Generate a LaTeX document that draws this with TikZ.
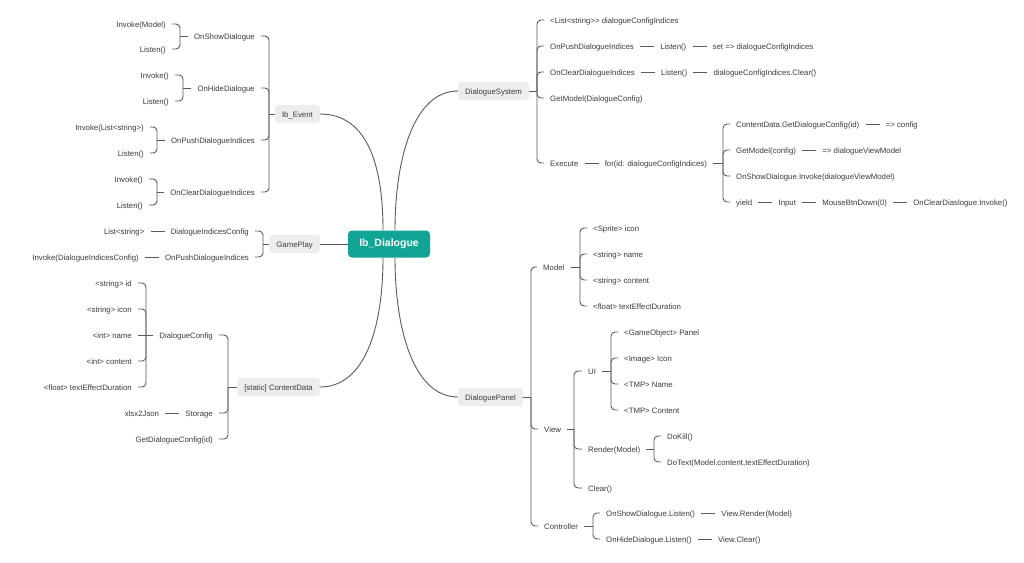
\documentclass[tikz,border=0pt]{standalone}
\usepackage{fontspec}
\setmainfont{Liberation Sans}
\usetikzlibrary{positioning}

\definecolor{rootteal}{HTML}{12A596}
\definecolor{topicgray}{HTML}{EDEDED}
\definecolor{linkgray}{HTML}{5A5A5A}
\definecolor{textgray}{HTML}{3C3C3C}

\tikzset{
  link/.style={draw=linkgray, line width=0.9pt},
  every edge/.style={link},
  elbow/.style={rounded corners=4pt, to path={|- (\tikztotarget)}},
  leaf/.style={font=\fontsize{7.8}{9}\selectfont, text=textgray, inner xsep=6pt,
    inner ysep=1pt, text height=1.6ex, text depth=.45ex},
  topic/.style={leaf, fill=topicgray, rounded corners=3pt, inner xsep=7pt,
    minimum height=18pt},
  root/.style={fill=rootteal, rounded corners=4pt, text=white,
    font=\fontsize{10.5}{12}\selectfont\bfseries, minimum width=82pt, minimum height=27pt}
}

\begin{document}
\begin{tikzpicture}[x=1pt, y=-1pt]

  \path[fill=white] (0,0) rectangle (1024,562);
  \useasboundingbox (0,0) rectangle (1024,562);

  % main topics
  \node[root] (root) at (389,244) {Ib\_Dialogue};

  \node[topic, anchor=east] (event)    at (320,114) {Ib\_Event};
  \node[topic, anchor=east] (gameplay) at (320,244) {GamePlay};
  \node[topic, anchor=east] (cdata)    at (320,387) {[static] ContentData};
  \node[topic, anchor=west] (dsys)     at (458,91)  {DialogueSystem};
  \node[topic, anchor=west] (dpanel)   at (458,397) {DialoguePanel};

  \draw[link] ([xshift=-6pt]root.north) .. controls +(0,-70) and +(45,0) .. (event.east);
  \draw[link] ([xshift=6pt]root.north) .. controls +(0,-70) and +(-45,0) .. (dsys.west);
  \draw[link] ([xshift=-6pt]root.south) .. controls +(0,70) and +(45,0) .. (cdata.east);
  \draw[link] ([xshift=6pt]root.south) .. controls +(0,70) and +(-45,0) .. (dpanel.west);
  \draw[link] (root.west) -- (gameplay.east);

  % Ib_Event
  \coordinate (event-j) at (269,114);
  \node[leaf, anchor=east] (ev-show)  at (261,36)  {OnShowDialogue};
  \node[leaf, anchor=east] (ev-hide)  at (261,88)  {OnHideDialogue};
  \node[leaf, anchor=east] (ev-push)  at (261,140) {OnPushDialogueIndices};
  \node[leaf, anchor=east] (ev-clear) at (261,192) {OnClearDialogueIndices};

  \node[leaf, anchor=east] (ev-show-inv)  at (172,24)  {Invoke(Model)};
  \node[leaf, anchor=east] (ev-show-lis)  at (172,49)  {Listen()};
  \node[leaf, anchor=east] (ev-hide-inv)  at (175,75)  {Invoke()};
  \node[leaf, anchor=east] (ev-hide-lis)  at (175,101) {Listen()};
  \node[leaf, anchor=east] (ev-push-inv)  at (150,127) {Invoke(List<string>)};
  \node[leaf, anchor=east] (ev-push-lis)  at (150,153) {Listen()};
  \node[leaf, anchor=east] (ev-clear-inv) at (149,179) {Invoke()};
  \node[leaf, anchor=east] (ev-clear-lis) at (149,205) {Listen()};

  \coordinate (ev-show-j)  at (180,36);
  \coordinate (ev-hide-j)  at (183,88);
  \coordinate (ev-push-j)  at (157,140);
  \coordinate (ev-clear-j) at (157,192);

  \draw[link] (event.west) -- (event-j);
  \path (event-j) edge[elbow] (ev-show) edge[elbow] (ev-hide)
                  edge[elbow] (ev-push) edge[elbow] (ev-clear);
  \draw[link] (ev-show.west) -- (ev-show-j);
  \path (ev-show-j) edge[elbow] (ev-show-inv) edge[elbow] (ev-show-lis);
  \draw[link] (ev-hide.west) -- (ev-hide-j);
  \path (ev-hide-j) edge[elbow] (ev-hide-inv) edge[elbow] (ev-hide-lis);
  \draw[link] (ev-push.west) -- (ev-push-j);
  \path (ev-push-j) edge[elbow] (ev-push-inv) edge[elbow] (ev-push-lis);
  \draw[link] (ev-clear.west) -- (ev-clear-j);
  \path (ev-clear-j) edge[elbow] (ev-clear-inv) edge[elbow] (ev-clear-lis);

  % GamePlay
  \coordinate (gameplay-j) at (263,244);
  \node[leaf, anchor=east] (gp-cfg)  at (255,231) {DialogueIndicesConfig};
  \node[leaf, anchor=east] (gp-push) at (255,257) {OnPushDialogueIndices};
  \node[leaf, left=14pt of gp-cfg]  (gp-list) {List<string>};
  \node[leaf, left=14pt of gp-push] (gp-inv)  {Invoke(DialogueIndicesConfig)};

  \draw[link] (gameplay.west) -- (gameplay-j);
  \path (gameplay-j) edge[elbow] (gp-cfg) edge[elbow] (gp-push);
  \path (gp-list) edge (gp-cfg);
  \path (gp-inv) edge (gp-push);

  % ContentData
  \coordinate (cdata-j) at (228,387);
  \node[leaf, anchor=east] (cd-cfg) at (219,335) {DialogueConfig};
  \node[leaf, anchor=east] (cd-sto) at (219,413) {Storage};
  \node[leaf, anchor=east] (cd-get) at (219,439) {GetDialogueConfig(id)};
  \node[leaf, left=14pt of cd-sto] (cd-xlsx) {xlsx2Json};

  \coordinate (cd-cfg-j) at (146,335);
  \node[leaf, anchor=east] (cfg-id)      at (138,283) {<string> id};
  \node[leaf, anchor=east] (cfg-icon)    at (138,309) {<string> icon};
  \node[leaf, anchor=east] (cfg-name)    at (138,335) {<int> name};
  \node[leaf, anchor=east] (cfg-content) at (138,361) {<int> content};
  \node[leaf, anchor=east] (cfg-dur)     at (138,387) {<float> textEffectDuration};

  \draw[link] (cdata.west) -- (cdata-j);
  \path (cdata-j) edge[elbow] (cd-cfg) edge[elbow] (cd-sto) edge[elbow] (cd-get);
  \path (cd-xlsx) edge (cd-sto);
  \draw[link] (cd-cfg.west) -- (cd-cfg-j);
  \path (cd-cfg-j) edge[elbow] (cfg-id) edge[elbow] (cfg-icon) edge (cfg-name)
                   edge[elbow] (cfg-content) edge[elbow] (cfg-dur);

  % DialogueSystem
  \coordinate (dsys-j) at (537,91);
  \node[leaf, anchor=west] (ds-list)  at (544,20)  {<List<string>{}> dialogueConfigIndices};
  \node[leaf, anchor=west] (ds-push)  at (544,46)  {OnPushDialogueIndices};
  \node[leaf, right=14pt of ds-push]      (ds-push-lis)  {Listen()};
  \node[leaf, right=14pt of ds-push-lis]  (ds-push-set)  {set => dialogueConfigIndices};
  \node[leaf, anchor=west] (ds-clear) at (544,72)  {OnClearDialogueIndices};
  \node[leaf, right=14pt of ds-clear]     (ds-clear-lis) {Listen()};
  \node[leaf, right=14pt of ds-clear-lis] (ds-clear-clr) {dialogueConfigIndices.Clear()};
  \node[leaf, anchor=west] (ds-get)   at (544,98)  {GetModel(DialogueConfig)};
  \node[leaf, anchor=west] (ds-exec)  at (544,163) {Execute};
  \node[leaf, right=14pt of ds-exec]      (ds-for)       {for(id: dialogueConfigIndices)};

  \draw[link] (dsys.east) -- (dsys-j);
  \path (dsys-j) edge[elbow] (ds-list) edge[elbow] (ds-push) edge[elbow] (ds-clear)
                 edge[elbow] (ds-get) edge[elbow] (ds-exec);
  \path (ds-push) edge (ds-push-lis) (ds-push-lis) edge (ds-push-set);
  \path (ds-clear) edge (ds-clear-lis) (ds-clear-lis) edge (ds-clear-clr);
  \path (ds-exec) edge (ds-for);

  % Execute loop
  \coordinate (ds-for-j) at (723,163);
  \node[leaf, anchor=west] (ex-cfg)   at (730,124) {ContentData.GetDialogueConfig(id)};
  \node[leaf, right=14pt of ex-cfg]   (ex-cfg-res)   {=> config};
  \node[leaf, anchor=west] (ex-model) at (730,150) {GetModel(config)};
  \node[leaf, right=14pt of ex-model] (ex-model-res) {=> dialogueViewModel};
  \node[leaf, anchor=west] (ex-show)  at (730,176) {OnShowDialogue.Invoke(dialogueViewModel)};
  \node[leaf, anchor=west] (ex-yield) at (730,202) {yield};
  \node[leaf, right=14pt of ex-yield] (ex-input)     {Input};
  \node[leaf, right=14pt of ex-input] (ex-mouse)     {MouseBtnDown(0)};
  \node[leaf, right=14pt of ex-mouse] (ex-clear)     {OnClearDiaslogue.Invoke()};

  \draw[link] (ds-for.east) -- (ds-for-j);
  \path (ds-for-j) edge[elbow] (ex-cfg) edge[elbow] (ex-model)
                   edge[elbow] (ex-show) edge[elbow] (ex-yield);
  \path (ex-cfg) edge (ex-cfg-res);
  \path (ex-model) edge (ex-model-res);
  \path (ex-yield) edge (ex-input) (ex-input) edge (ex-mouse) (ex-mouse) edge (ex-clear);

  % DialoguePanel
  \coordinate (dpanel-j) at (531,397);
  \node[leaf, anchor=west] (dp-model) at (537,267) {Model};
  \node[leaf, anchor=west] (dp-view)  at (538,429) {View};
  \node[leaf, anchor=west] (dp-ctrl)  at (538,526) {Controller};

  \draw[link] (dpanel.east) -- (dpanel-j);
  \path (dpanel-j) edge[elbow] (dp-model) edge[elbow] (dp-view) edge[elbow] (dp-ctrl);

  % Model
  \coordinate (dp-model-j) at (580,267);
  \node[leaf, anchor=west] (md-icon)    at (587,228) {<Sprite> icon};
  \node[leaf, anchor=west] (md-name)    at (587,254) {<string> name};
  \node[leaf, anchor=west] (md-content) at (587,280) {<string> content};
  \node[leaf, anchor=west] (md-dur)     at (587,306) {<float> textEffectDuration};

  \draw[link] (dp-model.east) -- (dp-model-j);
  \path (dp-model-j) edge[elbow] (md-icon) edge[elbow] (md-name)
                     edge[elbow] (md-content) edge[elbow] (md-dur);

  % View
  \coordinate (dp-view-j) at (574,429);
  \node[leaf, anchor=west] (vw-ui)     at (582,371) {UI};
  \node[leaf, anchor=west] (vw-render) at (582,449) {Render(Model)};
  \node[leaf, anchor=west] (vw-clear)  at (582,488) {Clear()};

  \draw[link] (dp-view.east) -- (dp-view-j);
  \path (dp-view-j) edge[elbow] (vw-ui) edge[elbow] (vw-render) edge[elbow] (vw-clear);

  \coordinate (vw-ui-j) at (611,371);
  \node[leaf, anchor=west] (ui-panel)   at (618,332) {<GameObject> Panel};
  \node[leaf, anchor=west] (ui-icon)    at (618,358) {<Image> Icon};
  \node[leaf, anchor=west] (ui-name)    at (618,384) {<TMP> Name};
  \node[leaf, anchor=west] (ui-content) at (618,410) {<TMP> Content};

  \draw[link] (vw-ui.east) -- (vw-ui-j);
  \path (vw-ui-j) edge[elbow] (ui-panel) edge[elbow] (ui-icon)
                  edge[elbow] (ui-name) edge[elbow] (ui-content);

  \coordinate (vw-render-j) at (654,449);
  \node[leaf, anchor=west] (rd-kill) at (661,436) {DoKill()};
  \node[leaf, anchor=west] (rd-text) at (661,462) {DoText(Model.content,textEffectDuration)};

  \draw[link] (vw-render.east) -- (vw-render-j);
  \path (vw-render-j) edge[elbow] (rd-kill) edge[elbow] (rd-text);

  % Controller
  \coordinate (dp-ctrl-j) at (593,526);
  \node[leaf, anchor=west] (ct-show) at (600,513) {OnShowDialogue.Listen()};
  \node[leaf, right=14pt of ct-show] (ct-render) {View.Render(Model)};
  \node[leaf, anchor=west] (ct-hide) at (600,539) {OnHideDialogue.Listen()};
  \node[leaf, right=14pt of ct-hide] (ct-clear)  {View.Clear()};

  \draw[link] (dp-ctrl.east) -- (dp-ctrl-j);
  \path (dp-ctrl-j) edge[elbow] (ct-show) edge[elbow] (ct-hide);
  \path (ct-show) edge (ct-render);
  \path (ct-hide) edge (ct-clear);

\end{tikzpicture}
\end{document}
